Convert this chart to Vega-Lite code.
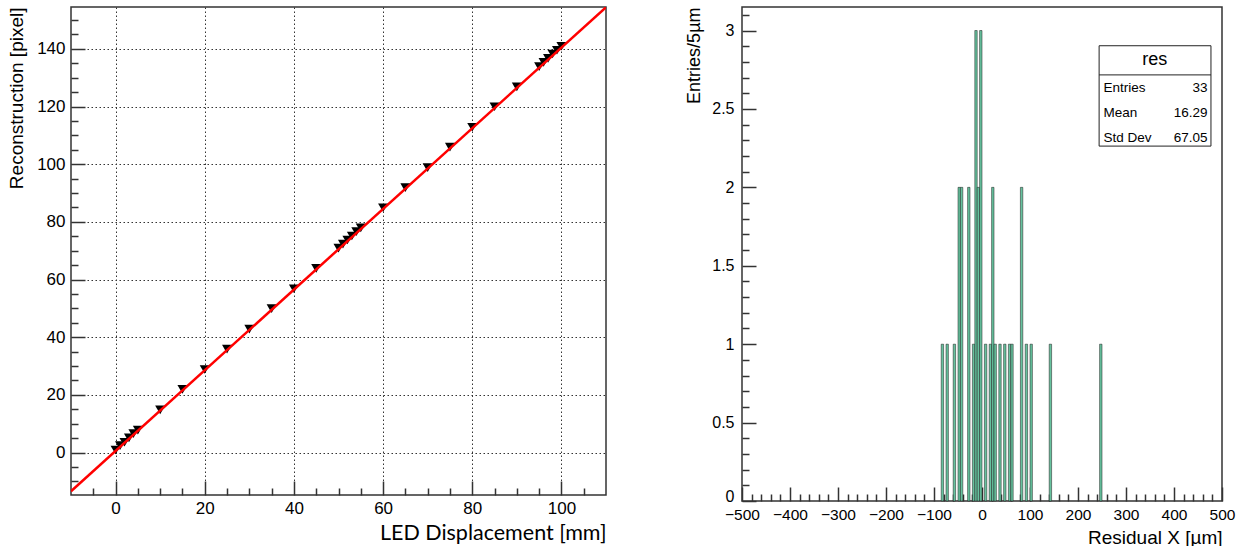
{
  "$schema": "https://vega.github.io/schema/vega-lite/v6.json",
  "background": "white",
  "padding": {"left": 6, "top": 6, "right": 5, "bottom": 0},
  "bounds": "flush",
  "spacing": 136,
  "config": {
    "font": "Liberation Sans",
    "view": {"stroke": "#333", "strokeWidth": 1.5},
    "axis": {
      "labelFont": "Liberation Sans",
      "labelColor": "black",
      "labelFontSize": 17,
      "labelOverlap": false,
      "labelFlush": false,
      "titleFont": "Liberation Sans",
      "titleFontWeight": "normal",
      "titleColor": "black",
      "titleFontSize": 17,
      "titleAnchor": "end",
      "domain": false,
      "grid": false,
      "tickCount": 200,
      "tickColor": "#333",
      "tickWidth": 1.5
    }
  },
  "datasets": {
    "points": [
      {"disp": 0, "rec": 0.9}, {"disp": 1, "rec": 2.4}, {"disp": 2, "rec": 3.6}, {"disp": 3, "rec": 5.1},
      {"disp": 4, "rec": 6.6}, {"disp": 5, "rec": 7.8}, {"disp": 10, "rec": 14.8}, {"disp": 15, "rec": 21.9},
      {"disp": 20, "rec": 28.8}, {"disp": 25, "rec": 35.9}, {"disp": 30, "rec": 42.8}, {"disp": 35, "rec": 49.9},
      {"disp": 40, "rec": 56.8}, {"disp": 45, "rec": 63.9}, {"disp": 50, "rec": 70.9}, {"disp": 51, "rec": 72.3},
      {"disp": 52, "rec": 73.7}, {"disp": 53, "rec": 75.1}, {"disp": 54, "rec": 76.6}, {"disp": 55, "rec": 77.9},
      {"disp": 60, "rec": 84.9}, {"disp": 65, "rec": 91.9}, {"disp": 70, "rec": 98.8}, {"disp": 75, "rec": 105.9},
      {"disp": 80, "rec": 112.8}, {"disp": 85, "rec": 119.9}, {"disp": 90, "rec": 126.8}, {"disp": 95, "rec": 133.8},
      {"disp": 96, "rec": 135.3}, {"disp": 97, "rec": 136.7}, {"disp": 98, "rec": 138.2}, {"disp": 99, "rec": 139.5},
      {"disp": 100, "rec": 140.9}
    ],
    "fit": [{"disp": -10, "rec": -13.4}, {"disp": 110, "rec": 154.4}],
    "hist": [
      {"lo": -85, "hi": -80, "n": 1}, {"lo": -75, "hi": -70, "n": 1}, {"lo": -60, "hi": -55, "n": 1},
      {"lo": -50, "hi": -45, "n": 2}, {"lo": -45, "hi": -40, "n": 2}, {"lo": -30, "hi": -25, "n": 2},
      {"lo": -20, "hi": -15, "n": 1}, {"lo": -15, "hi": -10, "n": 3}, {"lo": -10, "hi": -5, "n": 2},
      {"lo": -5, "hi": 0, "n": 3}, {"lo": 5, "hi": 10, "n": 1}, {"lo": 15, "hi": 20, "n": 1},
      {"lo": 20, "hi": 25, "n": 2}, {"lo": 25, "hi": 30, "n": 1}, {"lo": 35, "hi": 40, "n": 1},
      {"lo": 45, "hi": 50, "n": 1}, {"lo": 55, "hi": 60, "n": 1}, {"lo": 60, "hi": 65, "n": 1},
      {"lo": 80, "hi": 85, "n": 2}, {"lo": 90, "hi": 95, "n": 1}, {"lo": 100, "hi": 105, "n": 1},
      {"lo": 140, "hi": 145, "n": 1}, {"lo": 245, "hi": 250, "n": 1}
    ],
    "stats": [
      {"stat": "Entries", "value": "33"},
      {"stat": "Mean", "value": "16.29"},
      {"stat": "Std Dev", "value": "67.05"}
    ],
    "boxtitle": [{"name": "res"}]
  },
  "hconcat": [
    {
      "width": 535,
      "height": 488,
      "layer": [
        {
          "data": {"name": "points"},
          "mark": {"type": "point", "shape": "triangle-down", "filled": true, "color": "black", "opacity": 1, "size": 100},
          "encoding": {
            "x": {
              "field": "disp", "type": "quantitative",
              "scale": {"domain": [-10, 110], "nice": false, "zero": false},
              "axis": {
                "title": "LED Displacement [mm]",
                "titleFont": "Lato", "titleFontSize": 21.5,
                "values": [-5, 0, 5, 10, 15, 20, 25, 30, 35, 40, 45, 50, 55, 60, 65, 70, 75, 80, 85, 90, 95, 100, 105],
                "labelExpr": "datum.value % 20 === 0 ? format(datum.value, 'd') : ''",
                "tickSize": {"condition": {"test": "datum.value % 20 === 0", "value": -14}, "value": -7},
                "labelPadding": 19,
                "titlePadding": -1,
                "grid": true,
                "gridColor": "#333",
                "gridDash": [1.5, 2.5],
                "gridWidth": 1,
                "gridOpacity": {"condition": {"test": "datum.value % 20 === 0", "value": 1}, "value": 0}
              }
            },
            "y": {
              "field": "rec", "type": "quantitative",
              "scale": {"domain": [-14.7, 154.5], "nice": false, "zero": false},
              "axis": {
                "title": "Reconstruction [pixel]",
                "titleFontSize": 19,
                "values": [-10, -5, 0, 5, 10, 15, 20, 25, 30, 35, 40, 45, 50, 55, 60, 65, 70, 75, 80, 85, 90, 95, 100, 105, 110, 115, 120, 125, 130, 135, 140, 145, 150],
                "labelExpr": "datum.value % 20 === 0 ? format(datum.value, 'd') : ''",
                "tickSize": {"condition": {"test": "datum.value % 20 === 0", "value": -14}, "value": -7},
                "labelPadding": 20,
                "titlePadding": 10,
                "grid": true,
                "gridColor": "#333",
                "gridDash": [1.5, 2.5],
                "gridWidth": 1,
                "gridOpacity": {"condition": {"test": "datum.value % 20 === 0", "value": 1}, "value": 0}
              }
            }
          }
        },
        {
          "data": {"name": "fit"},
          "mark": {"type": "line", "color": "#ff0000", "strokeWidth": 2.5, "clip": true},
          "encoding": {
            "x": {"field": "disp", "type": "quantitative"},
            "y": {"field": "rec", "type": "quantitative"}
          }
        }
      ]
    },
    {
      "width": 480,
      "height": 494,
      "layer": [
        {
          "layer": [
            {
              "data": {"name": "hist"},
              "mark": {"type": "rect", "color": "#66c29e", "fill": "#66c29e", "fillOpacity": 1, "stroke": "#1a1a1a", "strokeWidth": 0.5},
              "encoding": {
                "x": {
                  "field": "lo", "type": "quantitative",
                  "scale": {"domain": [-500, 500], "nice": false, "zero": false},
                  "axis": {
                    "title": "Residual X [µm]",
                    "titleFontSize": 19,
                    "labelFontSize": 15.5,
                    "values": [-500, -480, -460, -440, -420, -400, -380, -360, -340, -320, -300, -280, -260, -240, -220, -200, -180, -160, -140, -120, -100, -80, -60, -40, -20, 0, 20, 40, 60, 80, 100, 120, 140, 160, 180, 200, 220, 240, 260, 280, 300, 320, 340, 360, 380, 400, 420, 440, 460, 480, 500],
                    "labelExpr": "datum.value % 100 === 0 ? datum.label : ''",
                    "tickSize": {"condition": {"test": "datum.value % 100 === 0", "value": -14}, "value": -7},
                    "labelPadding": 20,
                    "titlePadding": -1
                  }
                },
                "x2": {"field": "hi"},
                "y": {
                  "field": "n", "type": "quantitative",
                  "scale": {"domain": [0, 3.15], "nice": false, "zero": true},
                  "axis": {
                    "title": "Entries/5µm",
                    "titleFontSize": 18,
                    "labelFontSize": 16,
                    "values": [0, 0.1, 0.2, 0.3, 0.4, 0.5, 0.6, 0.7, 0.8, 0.9, 1, 1.1, 1.2, 1.3, 1.4, 1.5, 1.6, 1.7, 1.8, 1.9, 2, 2.1, 2.2, 2.3, 2.4, 2.5, 2.6, 2.7, 2.8, 2.9, 3, 3.1],
                    "labelExpr": "abs(datum.value*2 - round(datum.value*2)) < 0.001 ? format(datum.value, '~g') : ''",
                    "labelOffset": {"condition": {"test": "datum.value === 0", "value": -5}, "value": 0},
                    "tickSize": {"condition": {"test": "abs(datum.value*2 - round(datum.value*2)) < 0.001", "value": -14}, "value": -7},
                    "labelPadding": 22,
                    "titlePadding": 8
                  }
                },
                "y2": {"datum": 0}
              }
            },
            {
              "data": {"name": "boxtitle"},
              "mark": {"type": "rect", "fill": "white", "stroke": "#222", "strokeWidth": 1},
              "encoding": {
                "x": {"datum": 244, "type": "quantitative"},
                "x2": {"datum": 477},
                "y": {"datum": 2.903, "type": "quantitative"},
                "y2": {"datum": 2.263}
              }
            },
            {
              "data": {"name": "boxtitle"},
              "mark": {"type": "rule", "stroke": "#222", "strokeWidth": 1},
              "encoding": {
                "x": {"datum": 244, "type": "quantitative"},
                "x2": {"datum": 477},
                "y": {"datum": 2.717, "type": "quantitative"}
              }
            },
            {
              "data": {"name": "boxtitle"},
              "mark": {"type": "text", "font": "Liberation Sans", "fontSize": 18, "color": "black", "align": "center", "baseline": "middle"},
              "encoding": {
                "x": {"datum": 360, "type": "quantitative"},
                "y": {"datum": 2.81, "type": "quantitative"},
                "text": {"field": "name"}
              }
            }
          ]
        },
        {
          "data": {"name": "stats"},
          "layer": [
            {
              "mark": {"type": "text", "font": "Liberation Sans", "fontSize": 13.5, "color": "black", "align": "left", "baseline": "middle"},
              "encoding": {
                "x": {"datum": 253, "type": "quantitative"},
                "y": {"field": "stat", "type": "ordinal", "scale": {"type": "point", "domain": ["Entries", "Mean", "Std Dev"], "range": [81, 131], "padding": 0}, "axis": null},
                "text": {"field": "stat"}
              }
            },
            {
              "mark": {"type": "text", "font": "Liberation Sans", "fontSize": 13.5, "color": "black", "align": "right", "baseline": "middle"},
              "encoding": {
                "x": {"datum": 470, "type": "quantitative"},
                "y": {"field": "stat", "type": "ordinal", "axis": null},
                "text": {"field": "value"}
              }
            }
          ]
        }
      ],
      "resolve": {"scale": {"y": "independent"}, "axis": {"y": "independent"}}
    }
  ]
}
